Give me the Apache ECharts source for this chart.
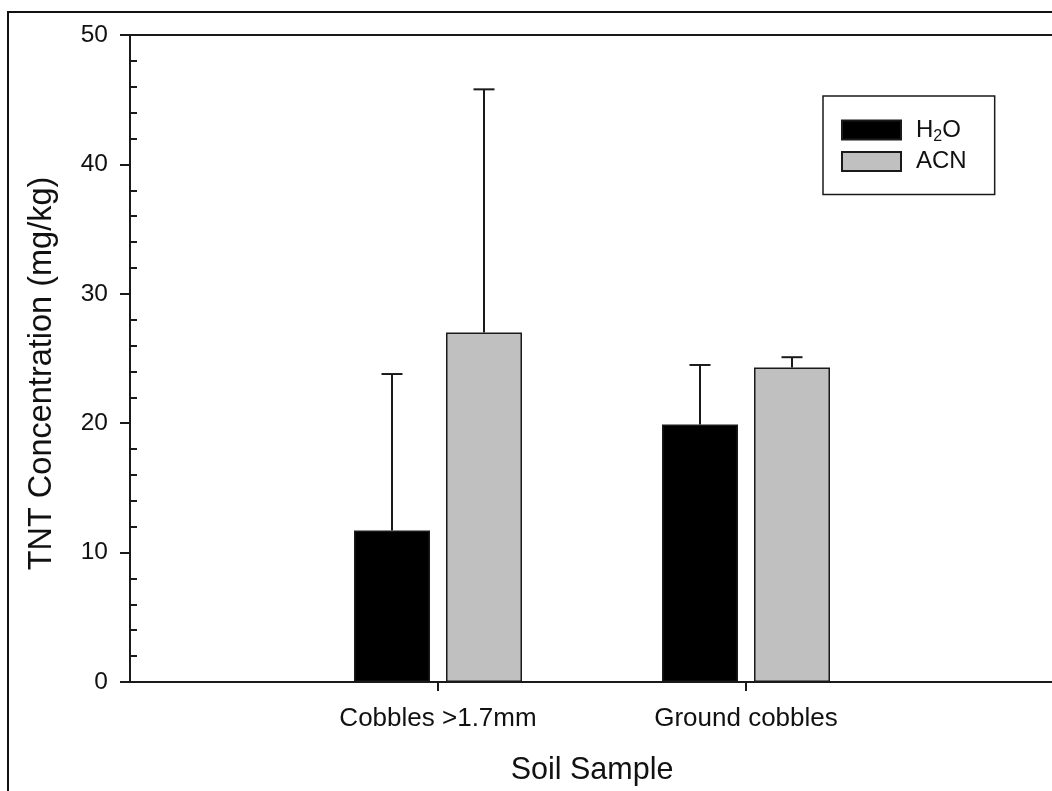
<!DOCTYPE html>
<html>
<head>
<meta charset="utf-8">
<script src="https://cdn.jsdelivr.net/npm/echarts@6/dist/echarts.min.js"></script>
<style>
  html, body { margin: 0; padding: 0; background: #fff; overflow: hidden; }
  #chart { width: 1060px; height: 791px; }
</style>
</head>
<body>
<div id="chart"></div>
<script>
// ---- data ----
const categories = ['Cobbles >1.7mm', 'Ground cobbles'];
const seriesNames = ['H2O', 'ACN'];
const h2oValues = [11.7, 19.9];
const acnValues = [27.0, 24.3];
const h2oUpper = [23.8, 24.5];   // top of error bar
const acnUpper = [45.8, 25.1];
const yTicks = [0, 10, 20, 30, 40, 50];

// ---- style constants ----
const FONT = 'Liberation Sans, Arial, Helvetica, sans-serif';
const INK = '#1a1a1a';
const BAR_W = 76;
const BAR_GAP_PX = 16;

// axis slots: empty slot on each side so categories sit at 1/3 and 2/3
const axisCats = [''].concat(categories, ['']);
const pad = arr => ['-'].concat(arr, ['-']);

const errData = (vals, upper) => vals.map((v, i) => [i + 1, v, upper[i]]);

function errRender(sign) {
  return function (params, api) {
    const x = api.value(0), v = api.value(1), top = api.value(2);
    const p0 = api.coord([x, v]);
    const p1 = api.coord([x, top]);
    const off = sign * (BAR_W + BAR_GAP_PX) / 2;
    const cx = p0[0] + off;
    const style = { stroke: INK, lineWidth: 2 };
    return {
      type: 'group',
      children: [
        { type: 'line', shape: { x1: cx, y1: p0[1], x2: cx, y2: p1[1] }, style },
        { type: 'line', shape: { x1: cx - 10.5, y1: p1[1], x2: cx + 10.5, y2: p1[1] }, style }
      ]
    };
  };
}

const chart = echarts.init(document.getElementById('chart'), null, { renderer: 'canvas' });

chart.setOption({
  backgroundColor: '#fff',
  animation: false,
  textStyle: { fontFamily: FONT },
  graphic: [{
    type: 'rect',
    shape: { x: 8, y: 12, width: 1200, height: 1000 },
    style: { fill: 'none', stroke: '#111', lineWidth: 2 },
    silent: true
  }],
  grid: {
    left: 130, top: 35, right: 6, bottom: 109,
    show: true, borderColor: INK, borderWidth: 2, backgroundColor: 'transparent'
  },
  legend: {
    orient: 'vertical',
    left: 823, top: 96,
    itemWidth: 59, itemHeight: 19, itemGap: 4.4,
    padding: [19, 28, 21, 18],
    borderColor: INK, borderWidth: 1.5,
    icon: 'rect',
    data: seriesNames,
    formatter: name => name === 'H2O' ? '{a|H}{s|2}{a|O}' : '{a|' + name + '}',
    textStyle: {
      fontFamily: FONT, color: '#111', fontSize: 24, padding: [0, 0, 0, 10],
      rich: {
        a: { fontFamily: FONT, fontSize: 24, color: '#111', lineHeight: 24 },
        s: { fontFamily: FONT, fontSize: 16, color: '#111', lineHeight: 24, padding: [14, 0, 0, 0] }
      }
    }
  },
  xAxis: {
    type: 'category',
    data: axisCats,
    boundaryGap: false,
    name: 'Soil Sample',
    nameLocation: 'middle',
    nameGap: 73,
    nameTextStyle: { fontFamily: FONT, fontSize: 30.5, color: '#111' },
    axisLine: { show: true, lineStyle: { color: INK, width: 2 } },
    axisTick: {
      show: true, length: 9, inside: false,
      interval: (i) => i > 0 && i < axisCats.length - 1,
      lineStyle: { color: INK, width: 2 }
    },
    axisLabel: {
      interval: 0, margin: 24, fontFamily: FONT, fontSize: 26, color: '#111'
    },
    splitLine: { show: false }
  },
  yAxis: [{
    type: 'value',
    position: 'left',
    min: 0, max: 50, interval: 10,
    name: 'TNT Concentration (mg/kg)',
    nameLocation: 'middle',
    nameGap: 71,
    nameTextStyle: { fontFamily: FONT, fontSize: 32.5, color: '#111', padding: [0, 30, 0, 0] },
    axisLine: { show: true, lineStyle: { color: INK, width: 2 } },
    axisTick: { show: true, length: 10, inside: false, lineStyle: { color: INK, width: 2 } },
    axisLabel: {
      margin: 22, fontFamily: FONT, fontSize: 24.5, color: '#111',
      formatter: v => yTicks.includes(v) ? String(v) : ''
    },
    splitLine: { show: false }
  }, {
    type: 'value',
    position: 'left',
    min: 0, max: 50, interval: 10,
    axisLine: { show: false },
    axisTick: { show: false, inside: true },
    axisLabel: { show: false },
    minorTick: { show: true, splitNumber: 5, length: 7, lineStyle: { color: INK, width: 2 } },
    splitLine: { show: false },
    minorSplitLine: { show: false }
  }],
  series: [
    {
      name: 'H2O', type: 'bar', xAxisIndex: 0, yAxisIndex: 0,
      data: pad(h2oValues),
      barWidth: BAR_W, barGap: (BAR_GAP_PX / BAR_W * 100) + '%',
      itemStyle: { color: '#000', borderColor: INK, borderWidth: 1.5 },
      z: 2
    },
    {
      name: 'ACN', type: 'bar', xAxisIndex: 0, yAxisIndex: 0,
      data: pad(acnValues),
      barWidth: BAR_W, barGap: (BAR_GAP_PX / BAR_W * 100) + '%',
      itemStyle: { color: '#c0c0c0', borderColor: INK, borderWidth: 1.5 },
      z: 2
    },
    {
      name: 'H2O err', type: 'custom', xAxisIndex: 0, yAxisIndex: 0,
      renderItem: errRender(-1),
      data: errData(h2oValues, h2oUpper),
      encode: { x: 0, y: [1, 2] },
      z: 3, silent: true
    },
    {
      name: 'ACN err', type: 'custom', xAxisIndex: 0, yAxisIndex: 0,
      renderItem: errRender(1),
      data: errData(acnValues, acnUpper),
      encode: { x: 0, y: [1, 2] },
      z: 3, silent: true
    }
  ]
});
</script>
</body>
</html>
